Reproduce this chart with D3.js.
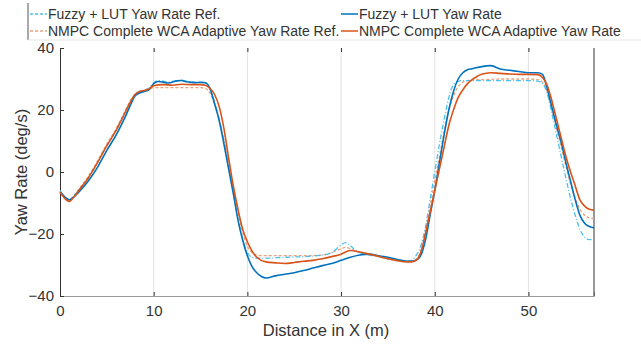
<!DOCTYPE html>
<html><head><meta charset="utf-8">
<script src="https://cdn.jsdelivr.net/npm/d3@7"></script>
<style>body{margin:0;background:#fff}svg{display:block;font-family:"Liberation Sans",Arial,sans-serif}</style>
</head><body><svg id="c" width="641" height="346"></svg>
<script>
// ---- data ----
const seriesNames = ["Fuzzy + LUT Yaw Rate Ref.", "Fuzzy + LUT Yaw Rate", "NMPC Complete WCA Adaptive Yaw Rate Ref.", "NMPC Complete WCA Adaptive Yaw Rate"];
const xTicks = [0, 10, 20, 30, 40, 50];
const yTicks = [-40, -20, 0, 20, 40];

const fuzzyRefX = [0,0.5,1,1.5,2,3,4,5,6,7,7.5,8,8.5,9,9.5,10,10.5,11,11.5,12,12.5,13,13.5,14,14.5,15,15.5,16,16.5,17,17.5,18,18.5,19,19.5,20,20.5,21,22,24,26,28,29,29.5,30,30.5,31,31.5,32,33,34,35,36,37,37.5,38,38.5,39,39.5,40,40.5,41,41.5,42,42.5,43,44,45,46,47,48,49,50,51,51.5,52,52.5,53,53.5,54,54.5,55,55.5,56,56.5,57];
const fuzzyRefY = [-6,-8,-9,-7.5,-6,-2,3,8.5,13.5,19.5,22.5,25,26,26.5,27,28.8,29.5,29.3,29,29.2,29.5,29.6,29.3,29.1,29,29,28.8,27,22.5,17,10,2,-6.5,-15,-21.5,-26,-27.5,-27.8,-27.8,-27.5,-27.3,-26.8,-26,-24.8,-23.5,-22.8,-23.8,-25.2,-26,-26.8,-27.3,-28,-28.5,-28.7,-28.5,-27,-24,-18,-9,0,9,17,24,28.2,29.2,29.5,29.5,29.5,29.5,29.5,29.5,29.5,29.5,29.3,28.5,25.5,19,12,5,-2,-8.5,-14,-18.5,-21,-21.8,-21.5];

const fuzzyX = [0,0.5,1,1.5,2,3,4,5,6,7,7.5,8,8.5,9,9.5,10,10.5,11,11.5,12,12.5,13,13.5,14,14.5,15,15.5,16,16.5,17,17.5,18,18.5,19,19.5,20,20.5,21,21.5,22,23,24,25,26,27,28,29,30,31,32,33,34,35,36,37,37.5,38,38.5,39,39.5,40,40.5,41,41.5,42,42.5,43,43.5,44,45,46,47,48,49,50,51,51.5,52,52.5,53,53.5,54,54.5,55,55.5,56,56.5,57];
const fuzzyY = [-6.5,-8,-9,-8,-6.5,-3,1.5,7,12,18,21.5,24.5,25.5,26,26.5,28.5,29.2,29,28.7,29,29.4,29.5,29.1,28.9,28.8,28.9,28.8,27,22,16.5,9,1,-7,-15.5,-22,-27,-30.5,-32.5,-33.7,-34.2,-33.5,-33,-32.5,-31.8,-31,-30.2,-29.5,-28.5,-27.5,-26.8,-26.5,-27,-27.5,-28.2,-28.8,-28.8,-28.5,-27,-22,-14,-6,3,12,20,26,30,32,33,33.3,34,34.3,33.2,32.8,32.4,32,32,31.5,27,21,15,9.5,3,-3,-9,-14,-16.5,-17.6,-18];

const nmpcRefX = [0,0.5,1,1.5,2,3,4,5,6,7,7.5,8,8.5,9,9.5,10,11,12,13,14,15,15.5,16,16.5,17,17.5,18,18.5,19,19.5,20,20.5,21,22,24,26,28,29,29.5,30,30.5,31,31.5,32,33,34,35,36,37,37.5,38,38.5,39,39.5,40,40.5,41,41.5,42,42.5,43,43.5,44,45,46,47,48,49,50,51,51.5,52,52.5,53,53.5,54,54.5,55,55.5,56,56.5,57];
const nmpcRefY = [-6,-8,-9,-7.5,-5.5,-1.5,3.5,9,14,20,23,25,25.8,26.3,26.8,27.2,27.2,27.2,27.2,27.2,27.2,27,25.5,22,16.5,10,2.5,-5.5,-13,-19.5,-24,-26,-26.8,-27,-27,-27,-26.8,-26,-25.3,-24.8,-24.3,-24.8,-25.5,-26,-26.7,-27.3,-28,-28.5,-28.8,-28.8,-28.2,-25.5,-19,-11,-3,5,13,20,24.5,27.5,29,29.5,29.7,29.8,29.9,30,30,30,30,29.8,29,26,20,14,8,2,-4,-8.5,-12,-14,-14.8,-15];

const nmpcX = [0,0.5,1,1.5,2,3,4,5,6,7,7.5,8,8.5,9,9.5,10,11,12,13,14,15,15.5,16,16.5,17,17.5,18,18.5,19,19.5,20,20.5,21,22,23,24,25,26,27,28,29,30,31,32,33,34,35,36,37,37.5,38,38.5,39,39.5,40,40.5,41,41.5,42,42.5,43,43.5,44,44.5,45,46,47,48,49,50,51,51.5,52,52.5,53,53.5,54,54.5,55,55.5,56,56.5,57];
const nmpcY = [-6.5,-8.5,-9.5,-8,-6,-2,3,8.5,13.5,19.5,22.5,25,26,26.3,26.8,27.8,28.2,28,28.3,28.2,28.2,28,27,25,21,14,4.5,-4.5,-12,-18.5,-22.5,-25.5,-27.5,-29,-29.3,-29.5,-29.2,-28.8,-28.5,-28,-27.3,-26.5,-25.3,-25.8,-26.5,-27.2,-28,-28.6,-29,-29,-28.5,-26,-20,-13,-6,1,8,15,20,24,26.5,28.5,29.8,30.8,31.5,32,31.8,31.6,31.5,31.5,31.4,30.5,28,23,17,11,5,0,-4.5,-9,-11,-12,-12.3,-12.5];

// ---- layout ----
const svg = d3.select("#c");
const L = 60, R = 594, T = 48, B = 296;
const x = d3.scaleLinear().domain([0, 57]).range([L, R]);
const y = d3.scaleLinear().domain([-40, 40]).range([B, T]);
const txt = "#333";

// grid
svg.append("g").selectAll("line").data(xTicks.filter(d => d > 0)).join("line")
  .attr("x1", d => x(d)).attr("x2", d => x(d)).attr("y1", T).attr("y2", B)
  .attr("stroke", "#e2e2e2").attr("stroke-width", 1);

// axes
const gx = svg.append("g").attr("transform", `translate(0,${B})`)
  .call(d3.axisBottom(x).tickValues(xTicks).tickSize(-4).tickPadding(9).tickFormat(d3.format("d")));
gx.select(".domain").attr("stroke", "#9a9a9a");
gx.selectAll(".tick line").attr("stroke", "#333");
gx.selectAll("text").attr("font-size", 15).attr("fill", txt).attr("font-family", '"Liberation Sans",Arial,sans-serif');

const gt = svg.append("g").attr("transform", `translate(0,${T})`)
  .call(d3.axisTop(x).tickValues(xTicks).tickSize(-4).tickFormat(""));
gt.select(".domain").remove();
gt.selectAll(".tick line").attr("stroke", "#333");

const gy = svg.append("g").attr("transform", `translate(${L},0)`)
  .call(d3.axisLeft(y).tickValues(yTicks).tickSize(-4).tickPadding(6));
gy.select(".domain").attr("stroke", "#333");
gy.selectAll(".tick line").attr("stroke", "#333");
gy.selectAll("text").attr("font-size", 15).attr("fill", txt).attr("font-family", '"Liberation Sans",Arial,sans-serif');

svg.append("line").attr("x1", R).attr("x2", R).attr("y1", T).attr("y2", B).attr("stroke", "#333");

// lines
const mk = (xs, ys) => xs.map((v, i) => [v, ys[i]]);
const line = d3.line().x(d => x(d[0])).y(d => y(d[1])).curve(d3.curveMonotoneX);
const series = [
  {d: mk(nmpcRefX, nmpcRefY), c: "#e9a27c", w: 1.3, dash: "3,2"},
  {d: mk(fuzzyRefX, fuzzyRefY), c: "#4dbeee", w: 1.3, dash: "5,2,1,2"},
  {d: mk(fuzzyX, fuzzyY), c: "#0072bd", w: 1.6, dash: null},
  {d: mk(nmpcX, nmpcY), c: "#d95319", w: 1.6, dash: null}
];
svg.append("g").selectAll("path").data(series).join("path")
  .attr("d", s => line(s.d)).attr("fill", "none")
  .attr("stroke", s => s.c).attr("stroke-width", s => s.w)
  .attr("stroke-dasharray", s => s.dash);

// axis labels
svg.append("text").attr("x", (L + R) / 2 - 1).attr("y", 336).attr("text-anchor", "middle")
  .attr("font-size", 16.5).attr("fill", txt).text("Distance in X (m)");
svg.append("text").attr("transform", `translate(27,${(T + B) / 2}) rotate(-90)`).attr("text-anchor", "middle")
  .attr("font-size", 16.5).attr("fill", txt).text("Yaw Rate (deg/s)");

// legend
const lg = svg.append("g");
lg.append("rect").attr("x", 28).attr("y", -2).attr("width", 640).attr("height", 42).attr("fill", "#fff");
lg.append("line").attr("x1", 28).attr("x2", 28).attr("y1", 3).attr("y2", 40).attr("stroke", "#555");
lg.append("line").attr("x1", 28).attr("x2", 641).attr("y1", 40).attr("y2", 40).attr("stroke", "#e6e6e6");
const legItems = [
  {n: seriesNames[0], c: "#4dbeee", dash: "3,2", col: 0, row: 0},
  {n: seriesNames[1], c: "#0072bd", dash: null, col: 1, row: 0},
  {n: seriesNames[2], c: "#e9a27c", dash: "3,2", col: 0, row: 1},
  {n: seriesNames[3], c: "#d95319", dash: null, col: 1, row: 1}
];
const colX = [30, 341];
const rowY = [14, 31];
const li = lg.selectAll("g.li").data(legItems).join("g").attr("class", "li");
li.append("line").attr("x1", d => colX[d.col]).attr("x2", d => colX[d.col] + 17)
  .attr("y1", d => rowY[d.row]).attr("y2", d => rowY[d.row])
  .attr("stroke", d => d.c).attr("stroke-width", 1.5).attr("stroke-dasharray", d => d.dash);
li.append("text").attr("x", d => colX[d.col] + 18).attr("y", d => rowY[d.row] + 5)
  .attr("font-size", 14).attr("fill", txt).text(d => d.n);
</script></body></html>
